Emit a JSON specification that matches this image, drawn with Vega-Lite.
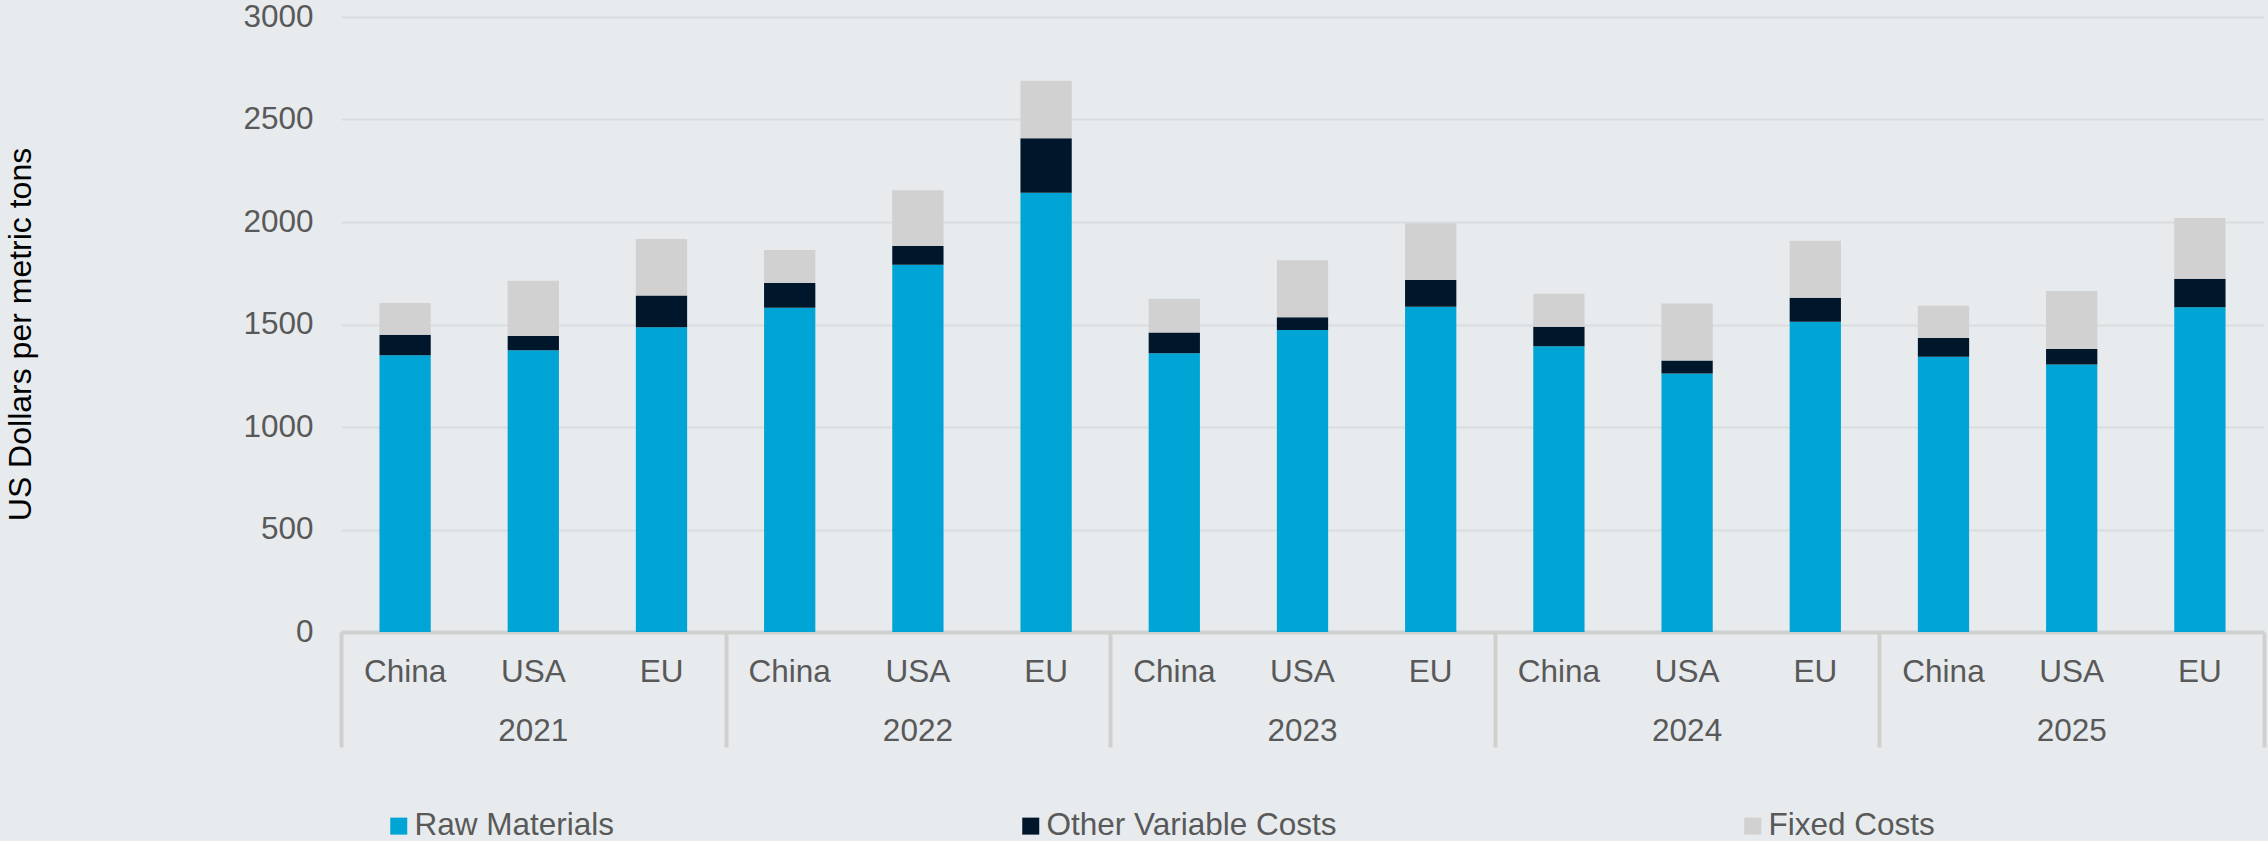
{
  "$schema": "https://vega.github.io/schema/vega-lite/v6.json",
  "autosize": {"type": "none"},
  "width": 1923,
  "height": 615,
  "padding": {"left": 341, "top": 17, "right": 4, "bottom": 209},
  "background": "#E7EBEE",
  "config": {
    "view": {"stroke": null},
    "font": "Liberation Sans",
    "axis": {"labelFont": "Liberation Sans", "titleFont": "Liberation Sans"},
    "legend": {"labelFont": "Liberation Sans"}
  },
  "data": {
    "values": [
      {"key": "2021|China", "component": "Raw Materials", "value": 1350},
      {"key": "2021|China", "component": "Other Variable Costs", "value": 100},
      {"key": "2021|China", "component": "Fixed Costs", "value": 155},
      {"key": "2021|USA", "component": "Raw Materials", "value": 1374},
      {"key": "2021|USA", "component": "Other Variable Costs", "value": 70},
      {"key": "2021|USA", "component": "Fixed Costs", "value": 269},
      {"key": "2021|EU", "component": "Raw Materials", "value": 1487},
      {"key": "2021|EU", "component": "Other Variable Costs", "value": 155},
      {"key": "2021|EU", "component": "Fixed Costs", "value": 275},
      {"key": "2022|China", "component": "Raw Materials", "value": 1582},
      {"key": "2022|China", "component": "Other Variable Costs", "value": 121},
      {"key": "2022|China", "component": "Fixed Costs", "value": 160},
      {"key": "2022|USA", "component": "Raw Materials", "value": 1792},
      {"key": "2022|USA", "component": "Other Variable Costs", "value": 91},
      {"key": "2022|USA", "component": "Fixed Costs", "value": 272},
      {"key": "2022|EU", "component": "Raw Materials", "value": 2143},
      {"key": "2022|EU", "component": "Other Variable Costs", "value": 265},
      {"key": "2022|EU", "component": "Fixed Costs", "value": 281},
      {"key": "2023|China", "component": "Raw Materials", "value": 1360},
      {"key": "2023|China", "component": "Other Variable Costs", "value": 101},
      {"key": "2023|China", "component": "Fixed Costs", "value": 165},
      {"key": "2023|USA", "component": "Raw Materials", "value": 1473},
      {"key": "2023|USA", "component": "Other Variable Costs", "value": 62},
      {"key": "2023|USA", "component": "Fixed Costs", "value": 279},
      {"key": "2023|EU", "component": "Raw Materials", "value": 1586},
      {"key": "2023|EU", "component": "Other Variable Costs", "value": 131},
      {"key": "2023|EU", "component": "Fixed Costs", "value": 277},
      {"key": "2024|China", "component": "Raw Materials", "value": 1394},
      {"key": "2024|China", "component": "Other Variable Costs", "value": 95},
      {"key": "2024|China", "component": "Fixed Costs", "value": 161},
      {"key": "2024|USA", "component": "Raw Materials", "value": 1261},
      {"key": "2024|USA", "component": "Other Variable Costs", "value": 64},
      {"key": "2024|USA", "component": "Fixed Costs", "value": 277},
      {"key": "2024|EU", "component": "Raw Materials", "value": 1513},
      {"key": "2024|EU", "component": "Other Variable Costs", "value": 117},
      {"key": "2024|EU", "component": "Fixed Costs", "value": 279},
      {"key": "2025|China", "component": "Raw Materials", "value": 1343},
      {"key": "2025|China", "component": "Other Variable Costs", "value": 91},
      {"key": "2025|China", "component": "Fixed Costs", "value": 158},
      {"key": "2025|USA", "component": "Raw Materials", "value": 1305},
      {"key": "2025|USA", "component": "Other Variable Costs", "value": 75},
      {"key": "2025|USA", "component": "Fixed Costs", "value": 283},
      {"key": "2025|EU", "component": "Raw Materials", "value": 1584},
      {"key": "2025|EU", "component": "Other Variable Costs", "value": 139},
      {"key": "2025|EU", "component": "Fixed Costs", "value": 297}
    ]
  },
  "resolve": {"axis": {"x": "independent"}},
  "layer": [
    {
      "mark": {"type": "bar"},
      "encoding": {
        "x": {
          "field": "key", "type": "nominal",
          "scale": {
            "domain": ["2021|China","2021|USA","2021|EU","2022|China","2022|USA","2022|EU","2023|China","2023|USA","2023|EU","2024|China","2024|USA","2024|EU","2025|China","2025|USA","2025|EU"],
            "paddingInner": 0.6, "paddingOuter": 0.3, "round": false
          },
          "axis": {
            "orient": "bottom", "title": null, "ticks": false, "grid": false,
            "domain": true, "domainColor": "#D0D1CE", "domainWidth": 4,
            "labelExpr": "split(datum.value, '|')[1]", "labelAngle": 0,
            "labelFontSize": 31.5, "labelColor": "#595959", "labelPadding": 24
          }
        },
        "y": {
          "field": "value", "type": "quantitative", "stack": "zero",
          "scale": {"domain": [0, 3000], "nice": false},
          "axis": {
            "values": [0, 500, 1000, 1500, 2000, 2500, 3000], "format": "d",
            "grid": true, "gridColor": "#DADDE0", "gridWidth": 2,
            "domain": false, "ticks": false,
            "labelFontSize": 31.5, "labelColor": "#595959", "labelPadding": 28,
            "title": "US Dollars per metric tons", "titleFontSize": 32,
            "titleColor": "#000000", "titleFontWeight": "normal",
            "titleAngle": 270, "titleBaseline": "top", "titleAlign": "center",
            "titleX": -336, "titleY": 317
          }
        },
        "color": {
          "field": "component", "type": "nominal",
          "scale": {
            "domain": ["Raw Materials", "Other Variable Costs", "Fixed Costs"],
            "range": ["#00A5D5", "#00162B", "#D0D1D0"]
          },
          "legend": {
            "title": null, "orient": "none", "direction": "horizontal",
            "legendX": 42, "legendY": 793, "padding": 0,
            "columnPadding": 400, "symbolType": "square", "symbolSize": 289,
            "symbolStrokeWidth": 0, "labelFontSize": 31.5, "labelColor": "#595959",
            "labelOffset": 0, "labelLimit": 0
          }
        },
        "order": {"field": "component", "sort": "descending"}
      }
    },
    {
      "mark": {"type": "tick", "opacity": 0},
      "encoding": {
        "x": {
          "field": "key", "type": "nominal",
          "scale": {
            "domain": ["2021|China","2021|USA","2021|EU","2022|China","2022|USA","2022|EU","2023|China","2023|USA","2023|EU","2024|China","2024|USA","2024|EU","2025|China","2025|USA","2025|EU"],
            "paddingInner": 0.6, "paddingOuter": 0.3, "round": false
          },
          "axis": {
            "orient": "bottom", "title": null, "ticks": false, "grid": false, "domain": false,
            "values": ["2021|USA", "2022|USA", "2023|USA", "2024|USA", "2025|USA"],
            "labelExpr": "split(datum.value, '|')[0]", "labelAngle": 0,
            "labelFontSize": 31.5, "labelColor": "#595959", "labelPadding": 83
          }
        }
      }
    },
    {
      "mark": {"type": "tick", "opacity": 0},
      "encoding": {
        "x": {
          "field": "key", "type": "nominal",
          "scale": {
            "domain": ["2021|China","2021|USA","2021|EU","2022|China","2022|USA","2022|EU","2023|China","2023|USA","2023|EU","2024|China","2024|USA","2024|EU","2025|China","2025|USA","2025|EU"],
            "paddingInner": 0.6, "paddingOuter": 0.3, "round": false
          },
          "axis": {
            "orient": "bottom", "title": null, "grid": false, "domain": false, "labels": false,
            "values": ["2021|China", "2022|China", "2023|China", "2024|China", "2025|China"],
            "ticks": true, "bandPosition": 0, "tickOffset": -38.46,
            "tickSize": 115, "tickWidth": 4, "tickColor": "#D0D1CE"
          }
        }
      }
    },
    {
      "mark": {"type": "tick", "opacity": 0},
      "encoding": {
        "x": {
          "field": "key", "type": "nominal",
          "scale": {
            "domain": ["2021|China","2021|USA","2021|EU","2022|China","2022|USA","2022|EU","2023|China","2023|USA","2023|EU","2024|China","2024|USA","2024|EU","2025|China","2025|USA","2025|EU"],
            "paddingInner": 0.6, "paddingOuter": 0.3, "round": false
          },
          "axis": {
            "orient": "bottom", "title": null, "grid": false, "domain": false, "labels": false,
            "values": ["2025|EU"],
            "ticks": true, "bandPosition": 1, "tickOffset": 38.46,
            "tickSize": 115, "tickWidth": 4, "tickColor": "#D0D1CE"
          }
        }
      }
    }
  ]
}
